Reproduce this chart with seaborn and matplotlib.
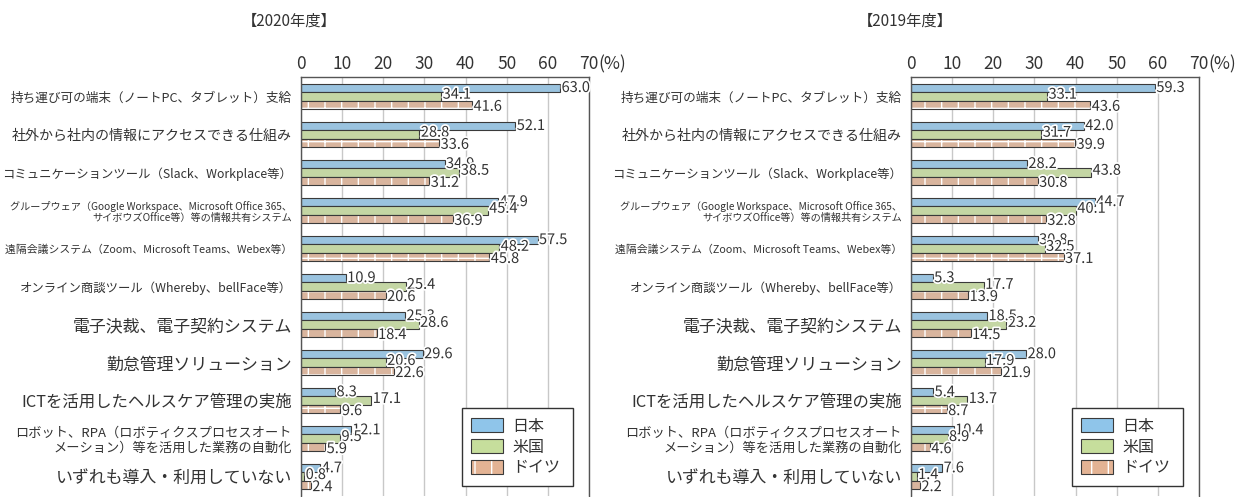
import numpy as np
import pandas as pd
import matplotlib.pyplot as plt
import matplotlib.patheffects as pe
from matplotlib.patches import Patch, Rectangle
import seaborn as sns

# Data (%)
categories = [
    '持ち運び可の端末（ノートPC、タブレット）支給',
    '社外から社内の情報にアクセスできる仕組み',
    'コミュニケーションツール（Slack、Workplace等）',
    'グループウェア（Google Workspace、Microsoft Office 365、\nサイボウズOffice等）等の情報共有システム',
    '遠隔会議システム（Zoom、Microsoft Teams、Webex等）',
    'オンライン商談ツール（Whereby、bellFace等）',
    '電子決裁、電子契約システム',
    '勤怠管理ソリューション',
    'ICTを活用したヘルスケア管理の実施',
    'ロボット、RPA（ロボティクスプロセスオート\nメーション）等を活用した業務の自動化',
    'いずれも導入・利用していない',
]
countries = ['日本', '米国', 'ドイツ']

japan_2020 = [63.0, 52.1, 34.9, 47.9, 57.5, 10.9, 25.3, 29.6, 8.3, 12.1, 4.7]
us_2020 = [34.1, 28.8, 38.5, 45.4, 48.2, 25.4, 28.6, 20.6, 17.1, 9.5, 0.8]
germany_2020 = [41.6, 33.6, 31.2, 36.9, 45.8, 20.6, 18.4, 22.6, 9.6, 5.9, 2.4]

japan_2019 = [59.3, 42.0, 28.2, 44.7, 30.8, 5.3, 18.5, 28.0, 5.4, 10.4, 7.6]
us_2019 = [33.1, 31.7, 43.8, 40.1, 32.5, 17.7, 23.2, 17.9, 13.7, 8.9, 1.4]
germany_2019 = [43.6, 39.9, 30.8, 32.8, 37.1, 13.9, 14.5, 21.9, 8.7, 4.6, 2.2]

x_ticks = [0, 10, 20, 30, 40, 50, 60, 70]

colors = {'日本': '#8fc5ea', '米国': '#c6de9c', 'ドイツ': '#e3b394'}
edge = '#3a3a3a'
text_col = '#333333'
label_sizes = [9.1, 10.1, 8.9, 7.3, 7.8, 8.9, 12.2, 12.2, 11.8, 9.5, 12.2]
label_dy = [0, 1.2, -1.5]  # vertical nudge of value labels per country (points)

plt.rcParams['font.family'] = ['Noto Sans CJK JP', 'DejaVu Sans']
plt.rcParams['text.color'] = text_col

W, H = 1239, 497
fig = plt.figure(figsize=(W / 100, H / 100), dpi=100)


def panel(left_px, jp, us, de, title, title_x):
    ax = fig.add_axes([left_px / W, (H - 495.7) / H, 288 / W, 418.4 / H])
    df = pd.DataFrame({
        'category': categories * 3,
        'country': np.repeat(countries, len(categories)),
        'value': jp + us + de,
    })
    sns.barplot(data=df, y='category', x='value', hue='country', hue_order=countries,
                palette=colors, orient='h', width=0.66, errorbar=None,
                edgecolor=edge, linewidth=0.8, legend=False, ax=ax)

    # Germany bars: white cross hatch with dark outline drawn on top
    for bar in ax.containers[2]:
        bar.set_hatch('+')
        bar.set_edgecolor('white')
        bar.set_linewidth(0)
        ax.add_patch(Rectangle(bar.get_xy(), bar.get_width(), bar.get_height(),
                               fill=False, edgecolor=edge, linewidth=0.8, zorder=bar.get_zorder() + 0.1))

    for cont, dy in zip(ax.containers, label_dy):
        anns = ax.bar_label(cont, fmt='%.1f', padding=1, fontsize=10.5, color=text_col,
                            path_effects=[pe.withStroke(linewidth=2.5, foreground='white')], zorder=5)
        for a in anns:
            a.xyann = (1, dy)

    ax.set_xlim(0, 70)
    ax.set_xticks(x_ticks)
    ax.xaxis.tick_top()
    ax.tick_params(axis='x', length=0, pad=3, labelsize=12.5, labelcolor=text_col)
    ax.tick_params(axis='y', length=0, pad=6.5)
    ax.set_yticks(range(len(categories)))
    ax.set_yticklabels(categories, color=text_col, linespacing=1.15)
    for lab, fs in zip(ax.get_yticklabels(), label_sizes):
        lab.set_fontsize(fs)
    ax.set_xlabel('')
    ax.set_ylabel('')
    ax.set_axisbelow(True)
    ax.xaxis.grid(True, color='#c8c8c8', linewidth=1)
    for s in ['top', 'left', 'right']:
        ax.spines[s].set_color('#555555')
        ax.spines[s].set_linewidth(1)
    ax.spines['bottom'].set_visible(False)

    ax.annotate('(%)', xy=(70, 1), xycoords=('data', 'axes fraction'), xytext=(6.8, 3),
                textcoords='offset points', ha='left', va='bottom', fontsize=12.5, color=text_col)

    handles = [Patch(facecolor=colors['日本'], edgecolor=edge, linewidth=0.8),
               Patch(facecolor=colors['米国'], edgecolor=edge, linewidth=0.8),
               (Patch(facecolor=colors['ドイツ'], edgecolor='white', linewidth=0, hatch='+'),
                Patch(fill=False, edgecolor=edge, linewidth=0.8))]
    leg = ax.legend(handles, countries, loc='lower left', bbox_to_anchor=(0.558, 0.023, 0.387, 0.19),
                    mode='expand', borderaxespad=0, fontsize=11.5, handlelength=2.0,
                    handleheight=0.94, labelspacing=0.25, handletextpad=0.56, borderpad=0.6,
                    fancybox=False, framealpha=1)
    leg.get_frame().set_edgecolor('#333333')
    leg.get_frame().set_linewidth(1)

    fig.text(title_x / W, 1 - 21 / H, title, ha='center', va='center', fontsize=11, color=text_col)
    return ax


panel(301, japan_2020, us_2020, germany_2020, '【2020年度】', 289)
panel(911, japan_2019, us_2019, germany_2019, '【2019年度】', 905)

fig.savefig('out.png', dpi=100)
